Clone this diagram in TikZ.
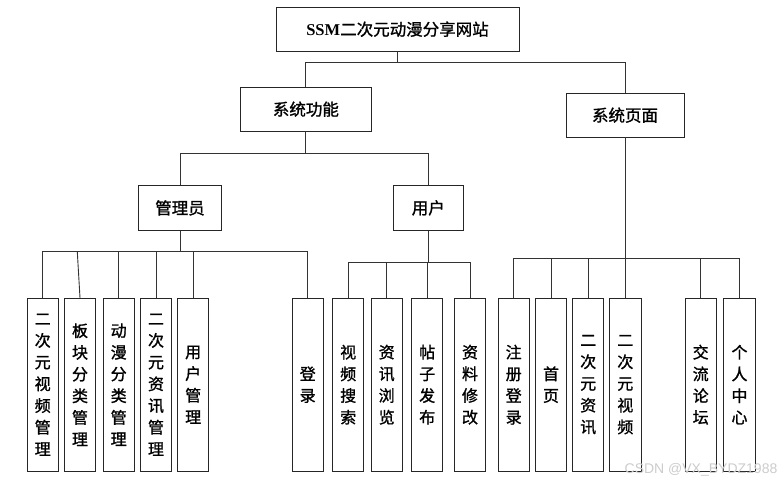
\documentclass[tikz,border=0pt]{standalone}
\usepackage{fontspec}
\setmainfont{Liberation Serif}
\newfontfamily\cjk[FakeBold=1.2]{Noto Sans CJK SC}
\newfontfamily\wmfont{Liberation Sans}
\usetikzlibrary{positioning}

\begin{document}
\begin{tikzpicture}[x=1pt,y=-1pt,line width=0.9pt]
\tikzstyle{box}=[draw=black!85,fill=white,inner sep=0pt,minimum height=43.7pt,font=\cjk\fontsize{16.5}{18}\selectfont]
\tikzstyle{leaf}=[draw=black!85,fill=white,inner sep=0pt,minimum width=31.4pt,minimum height=172.7pt,align=center,font=\cjk\fontsize{16}{21.7}\selectfont]
\tikzstyle{link}=[draw=black!80]
\useasboundingbox (0,0) rectangle (782,484);

% upper levels
\node[box,minimum width=243pt](root) at (397.5,29.2) {{\bfseries\rmfamily SSM}二次元动漫分享网站};
\node[box,minimum width=130.3pt](fun) at (305.9,109.2) {系统功能};
\node[box,minimum width=118pt](page) at (625,115.2) {系统页面};
\node[box,minimum width=83.4pt,minimum height=44.3pt](admin) at (180,207.9) {管理员};
\node[box,minimum width=70pt,minimum height=44.3pt](user) at (428.3,207.9) {用户};

% leaves
\node[leaf](m1) at (42.7,384.7) {二\\次\\元\\视\\频\\管\\理};
\node[leaf](m2) at (80,384.7) {板\\块\\分\\类\\管\\理};
\node[leaf](m3) at (118.7,384.7) {动\\漫\\分\\类\\管\\理};
\node[leaf](m4) at (156,384.7) {二\\次\\元\\资\\讯\\管\\理};
\node[leaf](m5) at (193.2,384.7) {用\\户\\管\\理};
\node[leaf](m6) at (307.7,384.7) {登\\录};
\node[leaf](u1) at (348.2,384.7) {视\\频\\搜\\索};
\node[leaf](u2) at (386.7,384.7) {资\\讯\\浏\\览};
\node[leaf](u3) at (427.2,384.7) {帖\\子\\发\\布};
\node[leaf](u4) at (470,384.7) {资\\料\\修\\改};
\node[leaf](p1) at (513.7,384.7) {注\\册\\登\\录};
\node[leaf](p2) at (551,384.7) {首\\页};
\node[leaf](p3) at (588.2,384.7) {二\\次\\元\\资\\讯};
\node[leaf](p4) at (625.3,384.7) {二\\次\\元\\视\\频};
\node[leaf](p5) at (700.7,384.7) {交\\流\\论\\坛};
\node[leaf](p6) at (739.5,384.7) {个\\人\\中\\心};

% bus heights
\coordinate (y1) at (0,62.3);
\coordinate (y2) at (0,153.7);
\coordinate (y3) at (0,251.7);
\coordinate (y4) at (0,262.7);
\coordinate (y5) at (0,258.3);
\coordinate (k2) at (77.3,251.7);

\draw[link] (root.south) -- (root.south |- y1);
\draw[link] (fun.north) |- (root.south |- y1) -| (page.north);
\draw[link] (fun.south) -- (fun.south |- y2);
\draw[link] (admin.north) |- (fun.south |- y2) -| (user.north);
\draw[link] (admin.south) -- (admin.south |- y3);
\draw[link] (m1.north) |- (admin.south |- y3) -| (m6.north);
\draw[link] (k2) -- (m2.north);
\foreach \c in {m3,m4,m5} \draw[link] (\c.north) -- (\c.north |- y3);
\draw[link] (user.south) -- (user.south |- y4);
\draw[link] (u1.north) |- (user.south |- y4) -| (u4.north);
\foreach \c in {u2,u3} \draw[link] (\c.north) -- (\c.north |- y4);
\draw[link] (page.south) -- (page.south |- y5);
\draw[link] (p1.north) |- (page.south |- y5) -| (p6.north);
\foreach \c in {p2,p3,p4,p5} \draw[link] (\c.north) -- (\c.north |- y5);

\node[text=gray!40,font=\wmfont\fontsize{14}{14}\selectfont](mark) at (701,469.5) {CSDN @VX\_BYDZ1988};
\end{tikzpicture}
\end{document}
